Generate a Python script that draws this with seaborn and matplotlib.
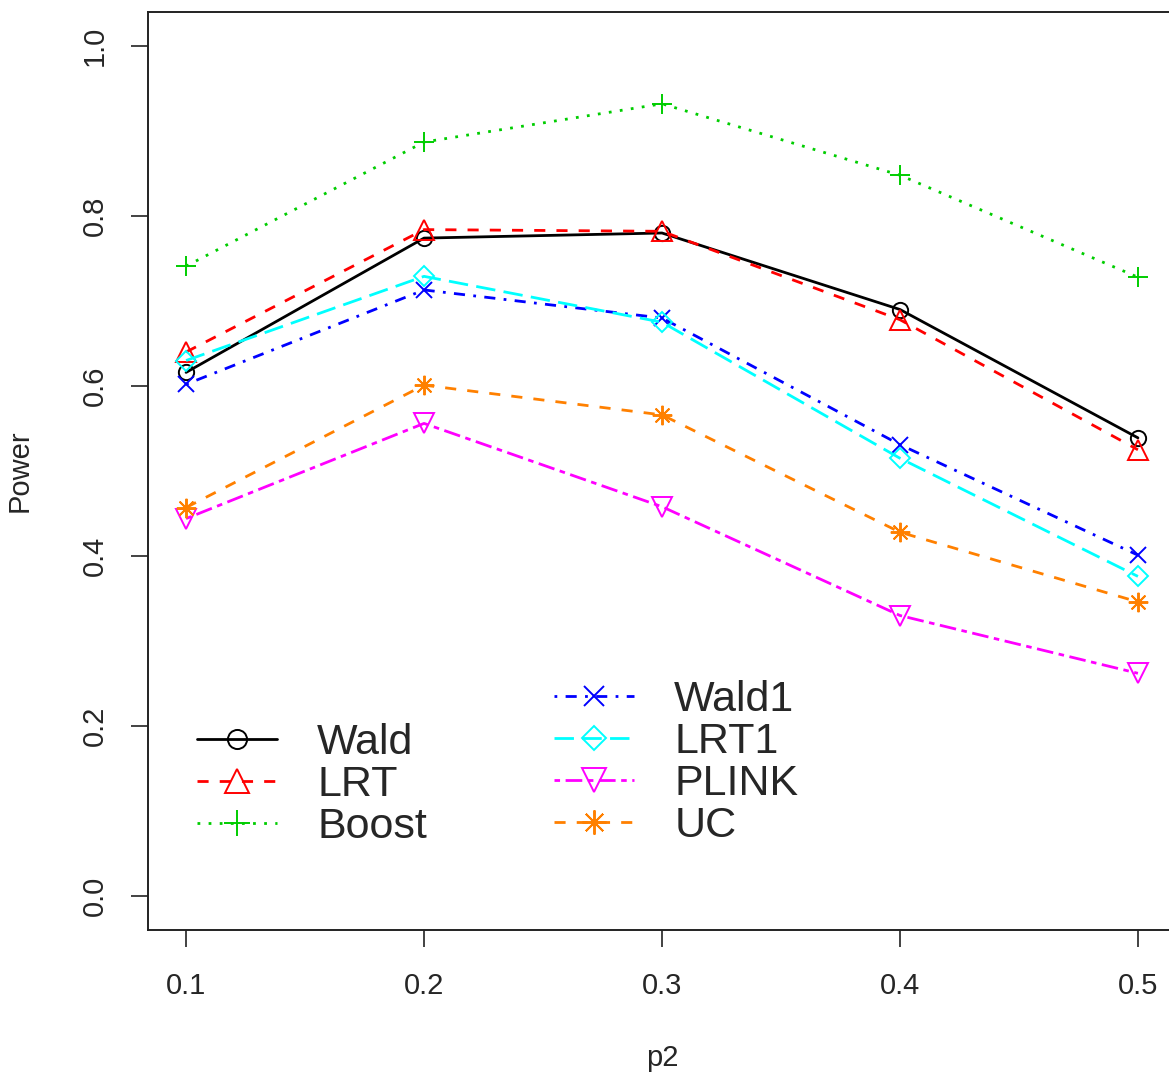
import seaborn as sns
import matplotlib
matplotlib.use("Agg")
import matplotlib.pyplot as plt

p2 = [0.1, 0.2, 0.3, 0.4, 0.5]
wald = [0.616, 0.774, 0.780, 0.690, 0.539]
lrt = [0.640, 0.784, 0.782, 0.678, 0.525]
boost = [0.741, 0.887, 0.932, 0.848, 0.728]
wald1 = [0.602, 0.713, 0.680, 0.531, 0.401]
lrt1 = [0.630, 0.729, 0.675, 0.515, 0.376]
plink = [0.444, 0.556, 0.458, 0.330, 0.262]
uc = [0.457, 0.601, 0.566, 0.428, 0.346]

series = [
    ("Wald", wald, "black", "o", "-"),
    ("LRT", lrt, "#FF0000", "^", (0, (4, 4))),
    ("Boost", boost, "#00CD00", "+", (0, (1, 3))),
    ("Wald1", wald1, "#0000FF", "x", (0, (1, 3, 4, 3))),
    ("LRT1", lrt1, "#00FFFF", "D", (0, (7, 3))),
    ("PLINK", plink, "#FF00FF", "v", (0, (2, 2, 6, 2))),
    ("UC", uc, "#FF8000", (8, 2, 0), (0, (4, 4))),
]
msize = {"o": 11, "^": 14, "+": 15, "x": 12, "D": 10, "v": 14}

sns.set_style("ticks")
plt.rcParams["font.family"] = ["Liberation Sans", "DejaVu Sans"]

fig = plt.figure(figsize=(11.69, 10.78), dpi=100)
W, H = 1169, 1078
ax = fig.add_axes([148 / W, (H - 930) / H, 1028 / W, 918 / H])

handles = []
for name, vals, col, mk, ls in series:
    filled = mk in ("o", "^", "D", "v")
    sns.lineplot(x=p2, y=vals, ax=ax, color=col, marker=mk, linestyle=ls,
                 linewidth=2, markersize=msize.get(mk, 14) if isinstance(mk, str) else 14,
                 markerfacecolor="none" if filled else col,
                 markeredgecolor=col, markeredgewidth=1.4, label=name,
                 legend=False)
    handles.append(ax.lines[-1])

ax.set_xlim(0.084, 0.516)
ax.set_ylim(-0.04, 1.04)
ax.set_xticks(p2)
ax.set_xticklabels(["0.1", "0.2", "0.3", "0.4", "0.5"])
ax.set_yticks([0.0, 0.2, 0.4, 0.6, 0.8, 1.0])
ax.set_yticklabels(["0.0", "0.2", "0.4", "0.6", "0.8", "1.0"], rotation=90, va="center")
ax.tick_params(axis="both", length=12, width=1.2, labelsize=21, color="#222222")
ax.tick_params(axis="x", pad=18)
ax.tick_params(axis="y", pad=16)
for s in ax.spines.values():
    s.set_linewidth(1.4)
    s.set_color("#222222")

ax.set_xlabel("p2", fontsize=21)
ax.set_ylabel("Power", fontsize=21)
ax.xaxis.set_label_coords(0.5, -0.124)
ax.yaxis.set_label_coords(-0.111, 0.5)

leg_kw = dict(frameon=False, fontsize=31, handlelength=1.86, handletextpad=0.93,
              labelspacing=0.05, borderpad=0, borderaxespad=0, numpoints=1,
              markerscale=1.25, loc="upper left", bbox_transform=fig.transFigure)
leg1 = ax.legend(handles=handles[:3], bbox_to_anchor=(197 / W, 1 - 723 / H), **leg_kw)
ax.add_artist(leg1)
ax.legend(handles=handles[3:], bbox_to_anchor=(554 / W, 1 - 680 / H), **leg_kw)

fig.savefig("out.png", dpi=100)
